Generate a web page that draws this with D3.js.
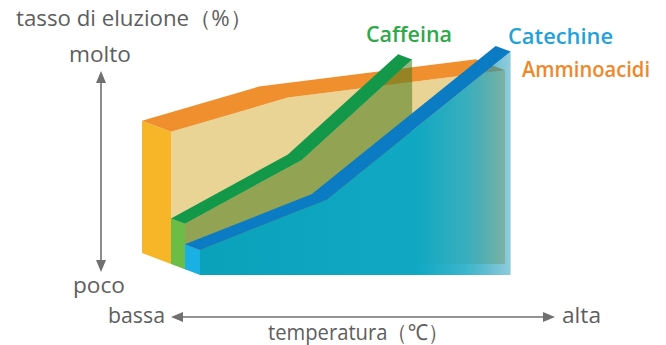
<!DOCTYPE html>
<html>
<head>
<meta charset="utf-8">
<script src="https://cdn.jsdelivr.net/npm/d3@7"></script>
<style>
  html, body { margin: 0; padding: 0; background: #fff; }
  svg { display: block; }
  text { font-family: "Open Sans", "Noto Sans", sans-serif; }
</style>
</head>
<body>
<svg id="chart" width="666" height="345"></svg>
<script>
// Temperature (0 = bassa, 100 = alta) and elution rate (0 = poco, 100 = molto)
const amminoTemp = [0, 35, 100];
const amminoRate = [58, 73, 85];
const caffeinaTemp = [0, 35, 68];
const caffeinaRate = [20, 48, 92];
const catechineTemp = [0, 38, 93];
const catechineRate = [11, 33, 98];

const seriesNames = ["Amminoacidi", "Caffeina", "Catechine"];
const axisLabels = {
  y: "tasso di eluzione（%）", yHigh: "molto", yLow: "poco",
  x: "temperatura（℃）", xLow: "bassa", xHigh: "alta"
};

const svg = d3.select("#chart");
const defs = svg.append("defs");

// Back plane scales; each slab is pushed along the depth direction
const x = d3.scaleLinear().domain([0, 100]).range([142, 476]);
const y = d3.scaleLinear().domain([0, 100]).range([253, 25]);
const slope = 0.38;              // vertical shift per px of depth
const base = y(0);

const layers = [
  { name: seriesNames[0], temp: amminoTemp, rate: amminoRate, d0: 0, d1: 29,
    face: "#e9d496", faceOpacity: 1, side: "#f6b628", band: "#f08f2d", label: "#f0872b" },
  { name: seriesNames[1], temp: caffeinaTemp, rate: caffeinaRate, d0: 29, d1: 43,
    face: "#4a7a1e", faceOpacity: 0.55, side: "#6cbd45", band: "#13984a", label: "#2fa84b" },
  { name: seriesNames[2], temp: catechineTemp, rate: catechineRate, d0: 43, d1: 58,
    face: "url(#catGrad)", faceOpacity: 1, side: "#1bb0e4", band: "#0b7bc3", label: "#1fa2dc" }
];

// Teal front face fading toward the hot end
const grad = defs.append("linearGradient").attr("id", "catGrad")
  .attr("gradientUnits", "userSpaceOnUse")
  .attr("x1", x(0) + 58).attr("x2", x(93) + 58).attr("y1", 0).attr("y2", 0);
grad.append("stop").attr("offset", 0).attr("stop-color", "#0aa2bb").attr("stop-opacity", 1);
grad.append("stop").attr("offset", 0.7).attr("stop-color", "#10a8c2").attr("stop-opacity", 1);
grad.append("stop").attr("offset", 0.86).attr("stop-color", "#1aa8c4").attr("stop-opacity", 0.85);
grad.append("stop").attr("offset", 1).attr("stop-color", "#0a8fb0").attr("stop-opacity", 0.45);

const pathLine = d3.line();

layers.forEach(L => {
  const pts = L.temp.map((t, i) => ({ t, v: L.rate[i] }));
  const g = svg.append("g").attr("class", "slab");

  // front face: area under the front top edge
  const area = d3.area()
    .x(d => x(d.t) + L.d1)
    .y0(base + slope * L.d1)
    .y1(d => y(d.v) + slope * L.d1);
  g.append("path").attr("d", area(pts))
    .attr("fill", L.face).attr("fill-opacity", L.faceOpacity);

  // left side face
  const p0 = pts[0];
  const side = [
    [x(p0.t) + L.d0, y(p0.v) + slope * L.d0],
    [x(p0.t) + L.d1, y(p0.v) + slope * L.d1],
    [x(p0.t) + L.d1, base + slope * L.d1],
    [x(p0.t) + L.d0, base + slope * L.d0]
  ];
  g.append("path").attr("d", pathLine(side) + "Z").attr("fill", L.side);

  // top surface band between back and front edges
  const back = pts.map(d => [x(d.t) + L.d0, y(d.v) + slope * L.d0]);
  const front = pts.map(d => [x(d.t) + L.d1, y(d.v) + slope * L.d1]).reverse();
  g.append("path").attr("d", pathLine(back.concat(front)) + "Z").attr("fill", L.band);
});

// axis arrows
const arrowColor = "#707070";
const ax = 101;
svg.append("line").attr("x1", ax).attr("x2", ax).attr("y1", 80).attr("y2", 262)
  .attr("stroke", arrowColor).attr("stroke-width", 1.6);
svg.append("path").attr("d", pathLine([[ax, 71], [ax - 5, 83], [ax + 5, 83]]) + "Z").attr("fill", arrowColor);
svg.append("path").attr("d", pathLine([[ax, 272], [ax - 5, 260], [ax + 5, 260]]) + "Z").attr("fill", arrowColor);

const ay = 317;
svg.append("line").attr("x1", 180).attr("x2", 545).attr("y1", ay).attr("y2", ay)
  .attr("stroke", arrowColor).attr("stroke-width", 1.6);
svg.append("path").attr("d", pathLine([[171, ay], [183, ay - 5], [183, ay + 5]]) + "Z").attr("fill", arrowColor);
svg.append("path").attr("d", pathLine([[555, ay], [543, ay - 5], [543, ay + 5]]) + "Z").attr("fill", arrowColor);

// text labels
const gray = "#5e5e5e";
function label(txt, xPos, yPos, len, color, size, weight) {
  svg.append("text").attr("x", xPos).attr("y", yPos)
    .attr("textLength", len).attr("lengthAdjust", "spacingAndGlyphs")
    .attr("font-size", size).attr("font-weight", weight || 400)
    .attr("fill", color).text(txt);
}
label(axisLabels.y, 16, 26, 236, gray, 22);
label(axisLabels.yHigh, 69, 62, 62, gray, 22);
label(axisLabels.yLow, 73, 293, 52, gray, 22);
label(axisLabels.xLow, 108, 323, 57, gray, 22);
label(axisLabels.xHigh, 562, 323, 39, gray, 22);
label(axisLabels.x, 268, 340, 180, gray, 22);

label(layers[1].name, 366, 42, 86, layers[1].label, 22, 600);
label(layers[2].name, 508, 44, 105, layers[2].label, 22, 600);
label(layers[0].name, 522, 77, 128, layers[0].label, 22, 600);
</script>
</body>
</html>
